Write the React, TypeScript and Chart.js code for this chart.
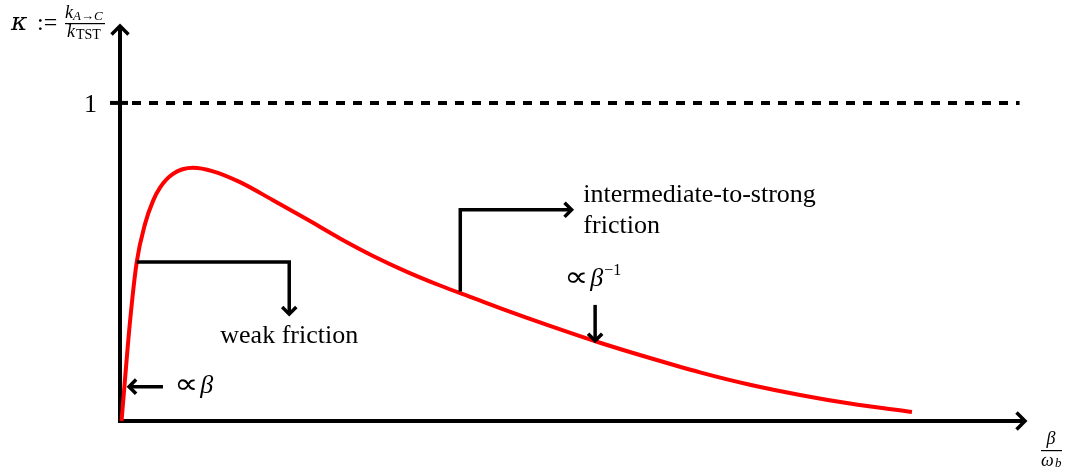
import React, { useEffect, useRef } from "react";
import { Chart, registerables } from "chart.js";

Chart.register(...registerables);

// Friction strength beta / omega_b (x) and transmission coefficient kappa (y)
const betaValues = [0.017, 0.05, 0.11, 0.185, 0.276, 0.365, 0.442, 0.586, 0.807, 1.028, 1.326, 1.691, 2.066, 2.431, 2.796, 3.171, 3.536, 3.901, 4.199, 4.751, 5.304, 5.856, 6.409, 6.961, 7.514, 8.066, 8.751];
const kappaValues = [0.0, 0.113, 0.311, 0.5, 0.619, 0.692, 0.734, 0.777, 0.796, 0.785, 0.751, 0.694, 0.634, 0.574, 0.519, 0.469, 0.426, 0.387, 0.355, 0.299, 0.246, 0.198, 0.153, 0.114, 0.082, 0.055, 0.028];

const tstLevel = 1;
const yTickLabels = ["1"];

const X_MAX = 10;
const Y_MAX = 1.245;

// Annotation anchors in data units
const weakPath = [
  [0.185, 0.5],
  [1.87, 0.5],
  [1.87, 0.336],
];
const weakLabel = { x: 1.87, y: 0.245, text: "weak friction" };
const strongPath = [
  [3.76, 0.407],
  [3.76, 0.664],
  [4.99, 0.664],
];
const strongLabel = { x: 5.12, y: 0.69, lines: ["intermediate-to-strong", "friction"] };
const invArrow = [
  [5.25, 0.365],
  [5.25, 0.252],
];
const invLabel = { x: 4.91, y: 0.426 };
const linArrow = [
  [0.475, 0.108],
  [0.1, 0.108],
];
const linLabel = { x: 0.6, y: 0.088 };

const SERIF = '"Liberation Serif", "DejaVu Serif", serif';
const PROP = '"DejaVu Sans", sans-serif';
const KAPPA = '"DejaVu Serif", serif';

function chevron(ctx: CanvasRenderingContext2D, tx: number, ty: number, angle: number, len = 11) {
  const a1 = angle + Math.PI - Math.PI / 4;
  const a2 = angle + Math.PI + Math.PI / 4;
  ctx.beginPath();
  ctx.moveTo(tx + len * Math.cos(a1), ty + len * Math.sin(a1));
  ctx.lineTo(tx, ty);
  ctx.lineTo(tx + len * Math.cos(a2), ty + len * Math.sin(a2));
  ctx.stroke();
}

function arrowPath(ctx: CanvasRenderingContext2D, pts: number[][]) {
  ctx.beginPath();
  ctx.moveTo(pts[0][0], pts[0][1]);
  for (let i = 1; i < pts.length; i++) ctx.lineTo(pts[i][0], pts[i][1]);
  ctx.stroke();
  const n = pts.length;
  const [x1, y1] = pts[n - 2];
  const [x2, y2] = pts[n - 1];
  chevron(ctx, x2, y2, Math.atan2(y2 - y1, x2 - x1), 10);
}

function drawProp(ctx: CanvasRenderingContext2D, x: number, y: number) {
  ctx.font = `28px ${PROP}`;
  const w = ctx.measureText("∝").width * 1.2;
  ctx.save();
  ctx.translate(x, y);
  ctx.scale(1.2, 1);
  ctx.fillText("∝", 0, 0);
  ctx.restore();
  return x + w + 2;
}

const overlay = {
  id: "overlay",
  beforeDatasetsDraw(chart: any) {
    const ctx: CanvasRenderingContext2D = chart.ctx;
    const xs = chart.scales.x;
    const ys = chart.scales.y;
    const x0 = xs.getPixelForValue(0);
    const y0 = ys.getPixelForValue(0);
    const yTop = chart.chartArea.top;
    const xRight = xs.getPixelForValue(X_MAX);
    const y1 = ys.getPixelForValue(tstLevel);
    ctx.save();
    ctx.strokeStyle = "#000";
    ctx.lineWidth = 4;
    ctx.lineCap = "butt";
    ctx.lineJoin = "miter";
    // dashed TST level
    ctx.setLineDash([9, 8]);
    ctx.beginPath();
    ctx.moveTo(x0 + 12, y1);
    ctx.lineTo(xs.getPixelForValue(9.94), y1);
    ctx.stroke();
    ctx.setLineDash([]);
    // tick
    ctx.beginPath();
    ctx.moveTo(x0 - 10, y1);
    ctx.lineTo(x0 + 8, y1);
    ctx.stroke();
    // axes
    ctx.beginPath();
    ctx.moveTo(x0, y0 + 2);
    ctx.lineTo(x0, yTop + 1);
    ctx.stroke();
    ctx.beginPath();
    ctx.moveTo(x0 - 2, y0);
    ctx.lineTo(xRight - 1, y0);
    ctx.stroke();
    ctx.lineWidth = 3.5;
    chevron(ctx, x0, yTop + 1, -Math.PI / 2, 12);
    chevron(ctx, xRight, y0, 0, 12);
    // tick label
    ctx.fillStyle = "#000";
    ctx.font = `26px ${SERIF}`;
    ctx.textAlign = "right";
    ctx.textBaseline = "alphabetic";
    ctx.fillText(yTickLabels[0], x0 - 23, y1 + 9);
    ctx.restore();
  },
  afterDatasetsDraw(chart: any) {
    const ctx: CanvasRenderingContext2D = chart.ctx;
    const xs = chart.scales.x;
    const ys = chart.scales.y;
    const P = (p: number[]) => [xs.getPixelForValue(p[0]), ys.getPixelForValue(p[1])];
    ctx.save();
    ctx.strokeStyle = "#000";
    ctx.fillStyle = "#000";
    ctx.lineWidth = 3.5;
    ctx.lineJoin = "miter";
    ctx.lineCap = "butt";
    arrowPath(ctx, weakPath.map(P));
    arrowPath(ctx, strongPath.map(P));
    arrowPath(ctx, invArrow.map(P));
    arrowPath(ctx, linArrow.map(P));

    ctx.textBaseline = "alphabetic";
    ctx.font = `26px ${SERIF}`;
    ctx.textAlign = "center";
    ctx.fillText(weakLabel.text, xs.getPixelForValue(weakLabel.x), ys.getPixelForValue(weakLabel.y));
    ctx.textAlign = "left";
    const sx = xs.getPixelForValue(strongLabel.x);
    const sy = ys.getPixelForValue(strongLabel.y);
    strongLabel.lines.forEach((t, i) => ctx.fillText(t, sx, sy + i * 31.5));

    // ∝ β^{-1}
    let ix = xs.getPixelForValue(invLabel.x);
    const iy = ys.getPixelForValue(invLabel.y);
    ix = drawProp(ctx, ix, iy);
    ctx.font = `italic 26px ${SERIF}`;
    ctx.fillText("β", ix, iy);
    ix += ctx.measureText("β").width;
    ctx.font = `16px ${SERIF}`;
    ctx.fillText("−1", ix + 1, iy - 11);

    // ∝ β
    let lx = xs.getPixelForValue(linLabel.x);
    const ly = ys.getPixelForValue(linLabel.y);
    lx = drawProp(ctx, lx, ly);
    ctx.font = `italic 26px ${SERIF}`;
    ctx.fillText("β", lx, ly);

    // y-axis title: κ := k_{A→C} / k_TST
    ctx.font = `italic 25px ${KAPPA}`;
    ctx.fillText("κ", 11, 30);
    ctx.font = `24px ${SERIF}`;
    ctx.fillText(":=", 37, 30);
    ctx.font = `italic 18px ${SERIF}`;
    ctx.fillText("k", 65, 18);
    ctx.font = `italic 13px ${SERIF}`;
    ctx.fillText("A→C", 73, 20);
    ctx.fillRect(65, 23, 40, 1.2);
    ctx.font = `italic 18px ${SERIF}`;
    ctx.fillText("k", 67, 37);
    ctx.font = `14px ${SERIF}`;
    ctx.fillText("TST", 76, 39);

    // x-axis title: β / ω_b
    ctx.font = `italic 18px ${SERIF}`;
    ctx.textAlign = "center";
    ctx.fillText("β", 1051, 444);
    ctx.fillRect(1041, 450, 21, 1.2);
    ctx.textAlign = "left";
    ctx.fillText("ω", 1041, 466);
    ctx.font = `italic 13px ${SERIF}`;
    ctx.fillText("b", 1055, 467);
    ctx.restore();
  },
};

export default function App() {
  const ref = useRef<HTMLCanvasElement>(null);
  useEffect(() => {
    document.body.style.margin = "0";
    const canvas = ref.current;
    if (!canvas) return;
    const chart = new Chart(canvas, {
      type: "line",
      data: {
        datasets: [
          {
            data: betaValues.map((b, i) => ({ x: b, y: kappaValues[i] })),
            borderColor: "#ff0000",
            borderWidth: 4,
            pointRadius: 0,
            cubicInterpolationMode: "monotone",
            fill: false,
            clip: false as any,
          },
        ],
      },
      options: {
        animation: false,
        responsive: false,
        layout: { padding: { left: 120, right: 42, top: 25, bottom: 51 } },
        scales: {
          x: { type: "linear", min: 0, max: X_MAX, display: false },
          y: { type: "linear", min: 0, max: Y_MAX, display: false },
        },
        plugins: { legend: { display: false }, tooltip: { enabled: false } },
      },
      plugins: [overlay],
    });
    return () => chart.destroy();
  }, []);
  return <canvas ref={ref} width={1067} height={472} style={{ display: "block" }} />;
}
